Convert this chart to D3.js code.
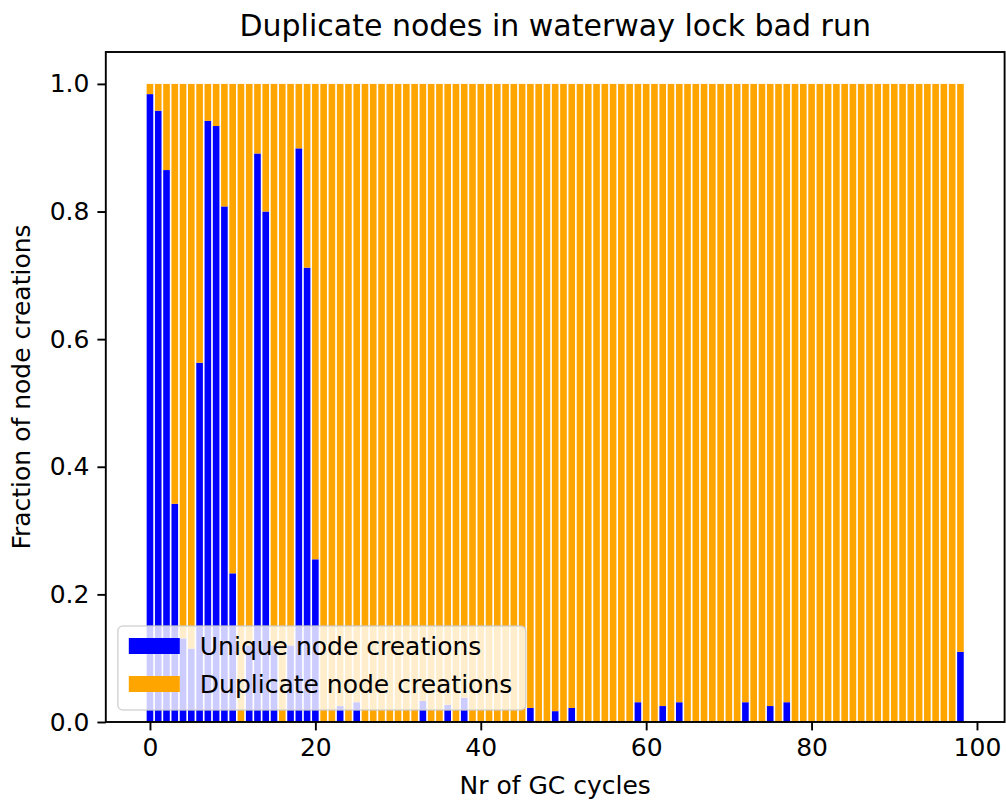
<!DOCTYPE html>
<html lang="en">

<head>
  <meta charset="UTF-8">
  <title>Duplicate nodes</title>
  <style>
    body { margin: 0; background: #fff; }
    text { font-family: "DejaVu Sans", sans-serif; fill: #000; }
  </style>
</head>

<body>
  <svg width="1006" height="805"></svg>
  <script src="https://cdn.jsdelivr.net/npm/d3@7"></script>
  <script>
    // data
    var cycles = d3.range(99)
    var unique = [
      0.984, 0.958, 0.865, 0.342, 0.131, 0.115, 0.563, 0.942, 0.934, 0.808,
      0.233, 0, 0.12, 0.891, 0.800, 0.12, 0, 0.12, 0.899, 0.712,
      0.255, 0, 0, 0.025, 0, 0.031, 0, 0, 0, 0,
      0, 0, 0, 0.033, 0, 0, 0.027, 0, 0.038, 0,
      0, 0, 0, 0, 0, 0, 0.022, 0, 0, 0.017,
      0, 0.022, 0, 0, 0, 0, 0, 0, 0, 0.031,
      0, 0, 0.025, 0, 0.031, 0, 0, 0, 0, 0,
      0, 0, 0.031, 0, 0, 0.025, 0, 0.031, 0, 0,
      0, 0, 0, 0, 0, 0, 0, 0, 0, 0,
      0, 0, 0, 0, 0, 0, 0, 0, 0.110
    ]
    var duplicate = [
      0.016, 0.042, 0.135, 0.658, 0.869, 0.885, 0.437, 0.058, 0.066, 0.192,
      0.767, 1, 0.88, 0.109, 0.200, 0.88, 1, 0.88, 0.101, 0.288,
      0.745, 1, 1, 0.975, 1, 0.969, 1, 1, 1, 1,
      1, 1, 1, 0.967, 1, 1, 0.973, 1, 0.962, 1,
      1, 1, 1, 1, 1, 1, 0.978, 1, 1, 0.983,
      1, 0.978, 1, 1, 1, 1, 1, 1, 1, 0.969,
      1, 1, 0.975, 1, 0.969, 1, 1, 1, 1, 1,
      1, 1, 0.969, 1, 1, 0.975, 1, 0.969, 1, 1,
      1, 1, 1, 1, 1, 1, 1, 1, 1, 1,
      1, 1, 1, 1, 1, 1, 1, 1, 0.890
    ]
    var seriesNames = ["Unique node creations", "Duplicate node creations"]
    var colors = ["#0000ff", "#ffa500"]
    var xTicks = [0, 20, 40, 60, 80, 100]
    var yTicks = [0, 0.2, 0.4, 0.6, 0.8, 1.0]

    var svg = d3.select("svg")
    // plot area (window.top is reserved, so prefix the names)
    var pLeft = 105.8, pRight = 1004.6, pTop = 52, pBottom = 722
    var fs = 25

    var rows = cycles.map(function (c, i) {
      return { cycle: c, unique: unique[i], duplicate: duplicate[i] }
    })
    var stacked = d3.stack().keys(["unique", "duplicate"])(rows)

    // matplotlib style margins (5%)
    var x = d3.scaleLinear().domain([-5.34, 103.34]).range([pLeft, pRight])
    var y = d3.scaleLinear().domain([0, 1.05]).range([pBottom, pTop])

    // bars
    var g = svg.append("g")
    g.selectAll("g.series")
      .data(stacked)
      .enter()
      .append("g")
      .attr("class", "series")
      .attr("fill", function (d, i) { return colors[i] })
      .selectAll("rect")
      .data(function (d) { return d })
      .enter()
      .append("rect")
      .attr("x", function (d) { return x(d.data.cycle - 0.4) })
      .attr("width", function (d) { return x(0.8) - x(0) })
      .attr("y", function (d) { return y(d[1]) })
      .attr("height", function (d) { return y(d[0]) - y(d[1]) })

    // axes
    var xAxis = d3.axisBottom(x).tickValues(xTicks).tickSize(8.4).tickPadding(8)
    var yAxis = d3.axisLeft(y).tickValues(yTicks).tickSize(8.4).tickPadding(8)
      .tickFormat(d3.format(".1f"))

    var gx = svg.append("g").attr("transform", "translate(0," + pBottom + ")").call(xAxis)
    var gy = svg.append("g").attr("transform", "translate(" + pLeft + ",0)").call(yAxis)
    ;[gx, gy].forEach(function (a) {
      a.select(".domain").remove()
      a.selectAll("line").attr("stroke", "#000").attr("stroke-width", 1.9)
      a.selectAll("text").style("font-size", fs + "px").style("font-family", "DejaVu Sans").attr("fill", "#000")
    })

    // frame
    svg.append("rect")
      .attr("x", pLeft).attr("y", pTop)
      .attr("width", pRight - pLeft).attr("height", pBottom - pTop)
      .attr("fill", "none").attr("stroke", "#000").attr("stroke-width", 1.9)

    // title + labels
    svg.append("text")
      .attr("x", (pLeft + pRight) / 2).attr("y", 36)
      .attr("text-anchor", "middle")
      .style("font-size", "30px")
      .text("Duplicate nodes in waterway lock bad run")

    svg.append("text")
      .attr("x", (pLeft + pRight) / 2).attr("y", 794)
      .attr("text-anchor", "middle")
      .style("font-size", fs + "px")
      .text("Nr of GC cycles")

    svg.append("text")
      .attr("transform", "translate(30," + (pTop + pBottom) / 2 + ") rotate(-90)")
      .attr("text-anchor", "middle")
      .style("font-size", fs + "px")
      .text("Fraction of node creations")

    // legend
    var lg = svg.append("g").attr("transform", "translate(" + (pLeft + 12) + "," + (pBottom - 12 - 84) + ")")
    lg.append("rect")
      .attr("width", 408).attr("height", 84).attr("rx", 5)
      .attr("fill", "#fff").attr("fill-opacity", 0.8)
      .attr("stroke", "#ccc").attr("stroke-opacity", 0.8).attr("stroke-width", 1.5)
    var items = lg.selectAll("g.item")
      .data(seriesNames)
      .enter()
      .append("g")
      .attr("class", "item")
      .attr("transform", function (d, i) { return "translate(0," + (20 + i * 38) + ")" })
    items.append("rect")
      .attr("x", 11).attr("y", -8).attr("width", 51).attr("height", 16)
      .attr("fill", function (d, i) { return colors[i] })
    items.append("text")
      .attr("x", 82).attr("dy", "0.35em")
      .style("font-size", fs + "px")
      .text(function (d) { return d })
  </script>
</body>

</html>
